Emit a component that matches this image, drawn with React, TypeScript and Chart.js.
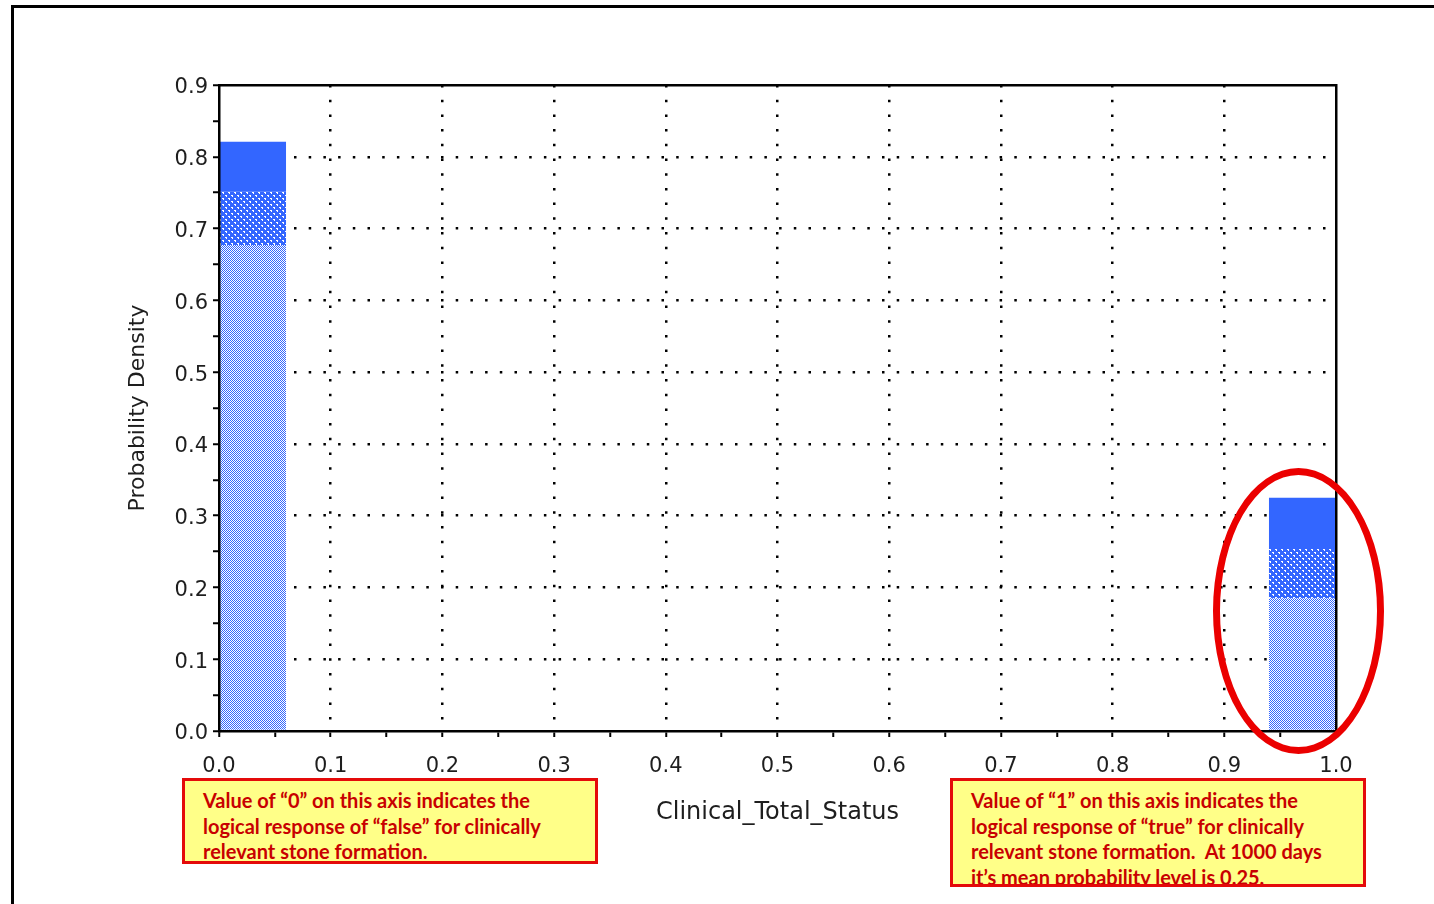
import React, { useEffect, useRef } from 'react';
import { Chart, registerables } from 'chart.js';

Chart.register(...registerables);

// ---- data ----
const binStart = [0.0, 0.94];
const binEnd = [0.06, 1.0];
const lowerBand = [0.677, 0.185];
const middleBand = [0.752, 0.255];
const upperBand = [0.821, 0.325];

const xTickLabels = ['0.0', '0.1', '0.2', '0.3', '0.4', '0.5', '0.6', '0.7', '0.8', '0.9', '1.0'];
const yTickLabels = ['0.0', '0.1', '0.2', '0.3', '0.4', '0.5', '0.6', '0.7', '0.8', '0.9'];
const xTitle = 'Clinical_Total_Status';
const yTitle = 'Probability Density';

const noteFalse = [
  'Value of “0” on this axis indicates the',
  'logical response of “false” for clinically',
  'relevant stone formation.',
];
const noteTrue = [
  'Value of “1” on this axis indicates the',
  'logical response of “true” for clinically',
  'relevant stone formation.  At 1000 days',
  'it’s mean probability level is 0.25.',
];

const X_STEP = 0.05;
const Y_STEP = 0.05;
const BLUE = '#3366ff';
const AXIS_FONT = 'DejaVu Sans';

function makePattern(rows: string[]): CanvasPattern | string {
  const h = rows.length;
  const w = rows[0].length;
  const c = document.createElement('canvas');
  c.width = w;
  c.height = h;
  const g = c.getContext('2d');
  if (!g) return BLUE;
  for (let y = 0; y < h; y++) {
    for (let x = 0; x < w; x++) {
      g.fillStyle = rows[y][x] === 'b' ? BLUE : '#ffffff';
      g.fillRect(x, y, 1, 1);
    }
  }
  const p = g.createPattern(c, 'repeat');
  return p || BLUE;
}

const isMajor = (v: number) => Math.abs(Math.round(v * 10) - v * 10) < 1e-6;

export default function App() {
  const canvasRef = useRef<HTMLCanvasElement | null>(null);

  useEffect(() => {
    const canvas = canvasRef.current;
    if (!canvas) return;
    const checker = makePattern(['bw', 'wb']);
    const speckle = makePattern(['wwbbbb', 'bwbbbb', 'bbbbbb', 'bbbwwb', 'bbbbwb', 'bbbbbb']);

    const centers = binStart.map((s, i) => (s + binEnd[i]) / 2);
    const barPct = (binEnd[0] - binStart[0]) / X_STEP;

    const chart = new Chart(canvas, {
      type: 'bar',
      data: {
        datasets: [
          {
            label: 'lower',
            data: centers.map((x, i) => ({ x, y: [0, lowerBand[i]] })) as any,
            backgroundColor: checker as any,
          },
          {
            label: 'middle',
            data: centers.map((x, i) => ({ x, y: [lowerBand[i], middleBand[i]] })) as any,
            backgroundColor: speckle as any,
          },
          {
            label: 'upper',
            data: centers.map((x, i) => ({ x, y: [middleBand[i], upperBand[i]] })) as any,
            backgroundColor: BLUE,
          },
        ],
      },
      options: {
        responsive: false,
        animation: false,
        events: [],
        grouped: false,
        barPercentage: barPct,
        categoryPercentage: 1,
        borderWidth: 0,
        layout: { padding: { left: 0, top: 85, right: 98, bottom: 0 } },
        plugins: { legend: { display: false }, tooltip: { enabled: false } },
        scales: {
          x: {
            type: 'linear',
            position: 'bottom',
            min: 0,
            max: 1,
            offset: false,
            afterFit: (s: any) => {
              s.height = 904 - 731;
            },
            ticks: {
              stepSize: X_STEP,
              autoSkip: false,
              maxRotation: 0,
              padding: 17,
              color: '#1e1e1e',
              font: { family: AXIS_FONT, size: 21 },
              callback: (v: any) => (isMajor(Number(v)) ? xTickLabels[Math.round(Number(v) * 10)] : ''),
            },
            grid: {
              offset: false,
              color: (c: any) => {
                const v = c.tick ? c.tick.value : 0;
                return isMajor(v) && v > 0.001 && v < 0.999 ? '#000' : 'rgba(0,0,0,0)';
              },
              lineWidth: 2.5,
              tickColor: '#000',
              tickWidth: 2,
              tickLength: 6,
            },
            border: { display: true, color: '#000', width: 2.5, dash: [2.5, 12.2], z: 1 },
            title: {
              display: true,
              text: xTitle,
              color: '#1e1e1e',
              font: { family: AXIS_FONT, size: 24 },
              padding: { top: 0, bottom: 77 },
            },
          },
          x2: {
            type: 'linear',
            position: 'top',
            min: 0,
            max: 1,
            offset: false,
            afterFit: (s: any) => {
              s.height = 0;
            },
            ticks: { display: false },
            grid: { display: false, drawTicks: false },
            border: { display: true, color: '#000', width: 2.5, z: 1 },
          },
          y: {
            type: 'linear',
            position: 'left',
            min: 0,
            max: 0.9,
            afterFit: (s: any) => {
              s.width = 219;
            },
            ticks: {
              stepSize: Y_STEP,
              autoSkip: false,
              padding: 5,
              labelOffset: 3,
              color: '#1e1e1e',
              font: { family: AXIS_FONT, size: 21 },
              callback: (v: any) => (isMajor(Number(v)) ? yTickLabels[Math.round(Number(v) * 10)] : ''),
            },
            grid: {
              color: (c: any) => {
                const v = c.tick ? c.tick.value : 0;
                return isMajor(v) && v > 0.001 && v < 0.899 ? '#000' : 'rgba(0,0,0,0)';
              },
              lineWidth: 2.5,
              tickColor: '#000',
              tickWidth: 2,
              tickLength: 6,
            },
            border: { display: true, color: '#000', width: 2.5, dash: [2.5, 12.2], z: 1 },
            title: {
              display: true,
              text: yTitle,
              color: '#1e1e1e',
              font: { family: AXIS_FONT, size: 22 },
              padding: { top: 125, bottom: 0 },
            },
          },
          y2: {
            type: 'linear',
            position: 'right',
            min: 0,
            max: 0.9,
            afterFit: (s: any) => {
              s.width = 0;
            },
            ticks: { display: false },
            grid: { display: false, drawTicks: false },
            border: { display: true, color: '#000', width: 2.5, z: 1 },
          },
        },
      } as any,
    });
    return () => chart.destroy();
  }, []);

  const noteStyle: React.CSSProperties = {
    position: 'absolute',
    top: 778,
    width: 416,
    boxSizing: 'border-box',
    border: '3px solid rgb(228,10,10)',
    background: '#ffff88',
    color: 'rgb(200,0,0)',
    fontFamily: 'Lato, "Open Sans", sans-serif',
    fontWeight: 700,
    fontSize: 20,
    lineHeight: '25.7px',
    padding: '7px 0 0 18px',
    overflow: 'hidden',
    whiteSpace: 'pre',
  };

  return (
    <div
      style={{
        position: 'fixed',
        left: 0,
        top: 0,
        width: 1434,
        height: 904,
        background: '#fff',
        overflow: 'hidden',
      }}
    >
      <div
        style={{
          position: 'absolute',
          left: 11,
          top: 5,
          width: 1600,
          height: 1000,
          borderLeft: '3px solid #000',
          borderTop: '3px solid #000',
        }}
      />
      <canvas ref={canvasRef} width={1434} height={904} style={{ position: 'absolute', left: 0, top: 0 }} />
      <div
        style={{
          position: 'absolute',
          left: 1213,
          top: 468,
          width: 171,
          height: 286,
          boxSizing: 'border-box',
          border: '7px solid rgb(235,0,0)',
          borderRadius: '50%',
        }}
      />
      <div style={{ ...noteStyle, left: 182, height: 86 }}>
        {noteFalse.map((t, i) => (
          <div key={i}>{t}</div>
        ))}
      </div>
      <div style={{ ...noteStyle, left: 950, height: 109 }}>
        {noteTrue.map((t, i) => (
          <div key={i}>{t}</div>
        ))}
      </div>
    </div>
  );
}
